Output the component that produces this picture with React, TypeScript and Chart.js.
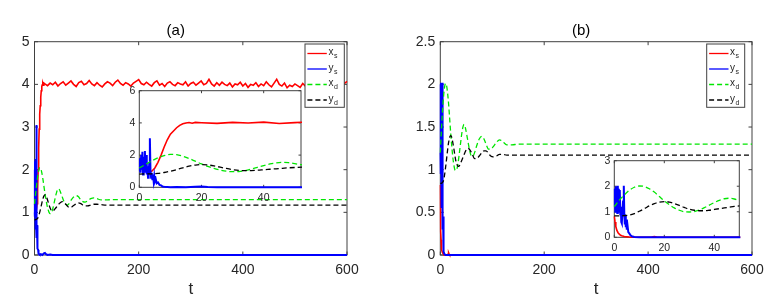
import React, { useEffect, useRef } from "react";
import { Chart, registerables } from "chart.js";

Chart.register(...registerables);

// ---------------- data ----------------
const SERIES_LABELS = ["x_s", "y_s", "x_d", "y_d"];
const TITLES = ["(a)", "(b)"];
const X_TITLE = "t";

const MAIN_X_TICKS = [0, 200, 400, 600];
const INSET_X_TICKS = [0, 20, 40];
const A_Y_TICKS = [0, 1, 2, 3, 4, 5];
const B_Y_TICKS = [0, 0.5, 1, 1.5, 2, 2.5];
const A_INSET_Y_TICKS = [0, 2, 4, 6];
const B_INSET_Y_TICKS = [0, 1, 2, 3];

// panel (a) x_s
const A_XS_T = [0, 1, 2, 3, 4, 5, 6, 7, 8, 9, 10, 11, 12, 13, 14, 15, 16, 17, 18,
  20, 25, 30, 35, 40, 45, 50, 55, 60, 65, 70, 75, 80, 85, 90, 95, 100, 105, 110, 115,
  120, 125, 130, 135, 140, 145, 150, 155, 160, 165, 170, 175, 180, 185, 190, 195, 200, 205, 210, 215,
  220, 225, 230, 235, 240, 245, 250, 255, 260, 265, 270, 275, 280, 285, 290, 295, 300, 305, 310, 315,
  320, 325, 330, 335, 340, 345, 350, 355, 360, 365, 370, 375, 380, 385, 390, 395, 400, 405, 410, 415,
  420, 425, 430, 435, 440, 445, 450, 455, 460, 465, 470, 475, 480, 485, 490, 495, 500, 505, 510, 515,
  520, 525, 530, 535, 540, 545, 550, 555, 560, 565, 570, 575, 580, 585, 590, 595, 600];
const A_XS = [1.2, 1.15, 1.05, 1.0, 1.0, 1.2, 1.55, 2.0, 2.5, 2.95, 3.3, 3.5, 3.7, 3.85, 3.95, 3.99, 4.02, 3.98, 4.03,
  4.01, 3.97, 4.03, 3.99, 4.05, 3.96, 4.02, 4.06, 3.98, 4.03,
  4.08, 4.0, 3.95, 4.04, 4.07, 3.99, 4.02, 4.09, 4.01, 3.97,
  4.04, 3.98, 3.94, 4.01, 4.06, 4.03, 3.97, 4.05, 4.1, 4.02,
  3.98, 4.04, 4.01, 3.96, 4.03, 4.07, 4.11, 4.02, 3.99, 4.05,
  4.0, 3.96, 4.04, 4.08, 3.98, 4.02, 3.95, 4.03, 4.06, 4.0,
  3.97, 4.04, 4.01, 3.99, 4.06, 3.96, 4.02, 4.05, 3.98, 4.03,
  4.08, 3.99, 4.02, 4.12, 4.01, 3.96, 4.04, 3.98, 4.05, 4.0,
  3.97, 4.03, 3.94, 4.01, 3.99, 4.05, 3.96, 4.02, 3.93, 4.0,
  3.98, 4.04, 3.95, 4.01, 3.97, 4.06, 3.99, 3.94, 4.03, 4.12,
  4.0, 3.96, 4.03, 3.92, 3.98, 3.95, 4.01, 3.97, 3.93, 4.02,
  3.96, 4.03, 3.99, 4.05, 3.97, 4.02, 3.95, 4.0, 3.98, 4.04,
  4.01, 3.97, 4.03, 4.0, 4.06, 4.02, 4.07];

// panel (a) y_s
const A_YS_T = [0, 0.2, 0.4, 0.6, 0.8, 1.0, 1.2, 1.4, 1.6, 1.8, 2.0, 2.2, 2.4, 2.6, 2.8, 3.0, 3.2, 3.4, 3.6, 3.8,
  4.0, 4.2, 4.4, 4.6, 4.8, 5.0, 5.3, 5.6, 6.0, 6.5, 7.0, 7.5, 8, 9, 10, 12, 15, 18, 20, 22, 25, 30, 35, 600];
const A_YS = [1.0, 1.8, 0.9, 2.0, 1.1, 2.2, 0.8, 1.9, 1.0, 2.25, 0.9, 2.0, 0.8, 1.3, 0.6, 0.7, 1.5, 3.05, 1.0, 0.6,
  0.9, 0.5, 0.8, 0.4, 0.7, 0.35, 0.5, 0.25, 0.3, 0.15, 0.12, 0.05, 0.03, 0.02, 0.01, 0.02, 0.0, 0.04, 0.05, 0.02, 0, 0.01, 0, 0];

// panel (b) x_s
const B_XS_T = [0, 0.3, 0.6, 1.0, 1.5, 2.0, 2.5, 3, 4, 5, 6, 8, 14, 15, 16, 17, 18, 600];
const B_XS = [0.82, 0.6, 0.42, 0.28, 0.18, 0.12, 0.08, 0.06, 0.03, 0.02, 0.01, 0, 0, 0.01, 0.025, 0.01, 0, 0];

// panel (b) y_s
const B_YS_T = [0, 0.2, 0.4, 0.6, 0.8, 1.0, 1.2, 1.4, 1.6, 1.8, 2.0, 2.2, 2.4, 2.6, 2.8, 3.0, 3.2,
  3.5, 3.8, 4.0, 4.2, 4.4, 4.6, 4.8, 5.0, 5.3, 5.6, 6.0, 6.5, 7, 8, 10, 600];
const B_YS = [1.2, 1.9, 1.0, 2.0, 1.1, 1.95, 0.95, 2.02, 1.05, 1.9, 1.0, 1.85, 0.9, 1.2, 0.6, 0.55, 0.9,
  1.4, 2.02, 0.9, 0.5, 0.85, 0.4, 0.7, 0.3, 0.45, 0.2, 0.15, 0.08, 0.04, 0.01, 0, 0];

// x_d / y_d sampling times (both panels)
const D_T = [0, 2, 4, 6, 8, 10, 12, 14, 16, 18, 20, 22, 24, 26, 28, 30, 32, 34, 36, 38, 40, 42, 44, 46, 48, 50,
  53, 56, 60, 63, 66, 70, 75, 80, 84, 88, 93, 97, 102, 108, 114, 120, 128, 138, 150, 600];
const A_XD = [1.2, 1.42, 1.64, 1.83, 1.97, 2.05, 2.03, 1.93, 1.79, 1.62,
  1.45, 1.3, 1.17, 1.07, 1.0, 0.97, 0.98, 1.04, 1.13, 1.24,
  1.35, 1.45, 1.52, 1.55, 1.53, 1.47,
  1.37, 1.27, 1.19, 1.17, 1.2, 1.28, 1.36, 1.39, 1.37, 1.31,
  1.25, 1.24, 1.27, 1.32, 1.34, 1.32, 1.29, 1.29, 1.3, 1.3];
const A_YD = [0.82, 0.83, 0.84, 0.86, 0.92, 1.0, 1.1, 1.21, 1.31, 1.38,
  1.41, 1.39, 1.33, 1.25, 1.17, 1.1, 1.05, 1.03, 1.04, 1.06,
  1.09, 1.12, 1.15, 1.18, 1.21, 1.23,
  1.25, 1.24, 1.19, 1.15, 1.12, 1.12, 1.16, 1.2, 1.22, 1.21,
  1.17, 1.15, 1.15, 1.17, 1.19, 1.19, 1.18, 1.17, 1.17, 1.17];
const B_XD = [1.2, 1.45, 1.66, 1.84, 1.96, 2.01, 1.99, 1.9, 1.77, 1.6,
  1.43, 1.28, 1.15, 1.06, 1.0, 0.99, 1.01, 1.07, 1.16, 1.26,
  1.36, 1.45, 1.51, 1.53, 1.5, 1.44,
  1.34, 1.24, 1.16, 1.16, 1.2, 1.28, 1.36, 1.39, 1.36, 1.3,
  1.24, 1.24, 1.27, 1.32, 1.35, 1.33, 1.29, 1.29, 1.3, 1.3];
const B_YD = [0.84, 0.84, 0.85, 0.87, 0.93, 1.02, 1.12, 1.23, 1.32, 1.38,
  1.4, 1.38, 1.32, 1.25, 1.17, 1.1, 1.06, 1.04, 1.04, 1.06,
  1.09, 1.12, 1.15, 1.18, 1.21, 1.23,
  1.25, 1.24, 1.2, 1.16, 1.13, 1.13, 1.16, 1.2, 1.22, 1.22,
  1.19, 1.16, 1.15, 1.16, 1.18, 1.18, 1.17, 1.17, 1.17, 1.17];

// ---------------- styling ----------------
const FONT = '"Liberation Sans", Arial, Helvetica, sans-serif';
const TEXT_COLOR = "#262626";
const AXIS_COLOR = "#404040";
const RED = "#ff0000";
const BLUE = "#0000ff";
const GREEN = "#00e600";
const BLACK = "#000000";
const DASH = [5, 3];

const pts = (t: number[], v: number[]) => t.map((x, i) => ({ x, y: v[i] }));

function makeDatasets(xsT: number[], xs: number[], ysT: number[], ys: number[], dT: number[], xd: number[], yd: number[]) {
  const common = { pointRadius: 0, fill: false, clip: { left: 1, right: 1, top: 1, bottom: 3 } };
  return [
    { ...common, label: SERIES_LABELS[0], data: pts(xsT, xs), borderColor: RED, borderWidth: 1.6, tension: 0, order: 3 },
    { ...common, label: SERIES_LABELS[1], data: pts(ysT, ys), borderColor: BLUE, borderWidth: 2, tension: 0, order: 2 },
    { ...common, label: SERIES_LABELS[2], data: pts(dT, xd), borderColor: GREEN, borderWidth: 1.3, borderDash: DASH, cubicInterpolationMode: "monotone", order: 1 },
    { ...common, label: SERIES_LABELS[3], data: pts(dT, yd), borderColor: BLACK, borderWidth: 1.3, borderDash: DASH, cubicInterpolationMode: "monotone", order: 0 },
  ];
}

const framePlugin = {
  id: "frame",
  beforeDatasetsDraw(chart: any, _args: any, o: any) {
    const { ctx, chartArea: ca } = chart;
    const xs = chart.scales.x;
    const ys = chart.scales.y;
    ctx.save();
    if (o.fillWhite) {
      ctx.fillStyle = "#ffffff";
      ctx.fillRect(ca.left, ca.top, ca.right - ca.left, ca.bottom - ca.top);
    }
    ctx.strokeStyle = AXIS_COLOR;
    ctx.lineWidth = 1;
    ctx.setLineDash([]);
    ctx.strokeRect(ca.left, ca.top, ca.right - ca.left, ca.bottom - ca.top);
    ctx.beginPath();
    for (const t of xs.ticks) {
      const px = xs.getPixelForValue(t.value);
      ctx.moveTo(px, ca.bottom);
      ctx.lineTo(px, ca.bottom - o.tick);
      ctx.moveTo(px, ca.top);
      ctx.lineTo(px, ca.top + o.tick);
    }
    for (const t of ys.ticks) {
      const py = ys.getPixelForValue(t.value);
      ctx.moveTo(ca.left, py);
      ctx.lineTo(ca.left + o.tick, py);
      ctx.moveTo(ca.right, py);
      ctx.lineTo(ca.right - o.tick, py);
    }
    ctx.stroke();
    ctx.restore();
  },
};

const legendPlugin = {
  id: "subLegend",
  afterDraw(chart: any, _args: any, o: any) {
    if (!o || !o.show) return;
    const { ctx, chartArea: ca } = chart;
    const x0 = ca.right - o.rightInset - o.width;
    const y0 = ca.top + o.topInset;
    ctx.save();
    ctx.fillStyle = "#ffffff";
    ctx.fillRect(x0, y0, o.width, o.height);
    ctx.strokeStyle = AXIS_COLOR;
    ctx.lineWidth = 1;
    ctx.setLineDash([]);
    ctx.strokeRect(x0, y0, o.width, o.height);
    chart.data.datasets.forEach((ds: any, i: number) => {
      const y = y0 + o.firstRow + i * o.rowGap;
      ctx.strokeStyle = ds.borderColor;
      ctx.lineWidth = 1.3;
      ctx.setLineDash(ds.borderDash || []);
      ctx.beginPath();
      ctx.moveTo(x0 + o.lineStart, y);
      ctx.lineTo(x0 + o.lineEnd, y);
      ctx.stroke();
      ctx.setLineDash([]);
      const [base, sub] = String(ds.label).split("_");
      ctx.fillStyle = TEXT_COLOR;
      ctx.textBaseline = "middle";
      ctx.textAlign = "left";
      ctx.font = `10px ${FONT}`;
      ctx.fillText(base, x0 + o.textStart, y - 1);
      const w = ctx.measureText(base).width;
      ctx.font = `7px ${FONT}`;
      ctx.fillText(sub, x0 + o.textStart + w + 0.5, y + 3);
    });
    ctx.restore();
  },
};

type Geo = { padL: number; padR: number; padT: number; padB: number; yW: number; xH: number };

function buildConfig(p: {
  datasets: any[];
  xMax: number;
  xTicks: number[];
  yMax: number;
  yTicks: number[];
  geo: Geo;
  tickFont: number;
  labelPad: number;
  yLabelPad: number;
  title?: string;
  xTitle?: string;
  tickLen: number;
  fillWhite: boolean;
  legend?: any;
}) {
  const g = p.geo;
  return {
    type: "line",
    data: { datasets: p.datasets },
    plugins: [framePlugin, legendPlugin],
    options: {
      responsive: false,
      animation: false,
      events: [],
      layout: { padding: { left: g.padL, right: g.padR, top: g.padT, bottom: g.padB } },
      plugins: {
        legend: { display: false },
        tooltip: { enabled: false },
        title: p.title
          ? {
              display: true,
              text: p.title,
              color: "#000000",
              font: { family: FONT, size: 15, weight: "normal", lineHeight: 1.2 },
              padding: { top: 21.4, bottom: 2.3 },
            }
          : { display: false },
        frame: { tick: p.tickLen, fillWhite: p.fillWhite },
        subLegend: p.legend || { show: false },
      },
      scales: {
        x: {
          type: "linear",
          min: 0,
          max: p.xMax,
          grid: { display: false, drawTicks: false, tickLength: 0 },
          border: { display: false },
          ticks: {
            color: TEXT_COLOR,
            font: { family: FONT, size: p.tickFont },
            padding: p.labelPad,
            maxRotation: 0,
            autoSkip: false,
            callback: (v: any) => String(v),
          },
          afterBuildTicks: (s: any) => {
            s.ticks = p.xTicks.map((v) => ({ value: v }));
          },
          afterFit: (s: any) => {
            s.height = g.xH;
          },
          title: p.xTitle
            ? {
                display: true,
                text: p.xTitle,
                color: TEXT_COLOR,
                font: { family: FONT, size: 17, lineHeight: 1.2 },
                padding: { top: 0, bottom: 3 },
              }
            : { display: false },
        },
        y: {
          type: "linear",
          min: 0,
          max: p.yMax,
          grid: { display: false, drawTicks: false, tickLength: 0 },
          border: { display: false },
          ticks: {
            color: TEXT_COLOR,
            font: { family: FONT, size: p.tickFont },
            padding: p.yLabelPad,
            autoSkip: false,
            callback: (v: any) => String(v),
          },
          afterBuildTicks: (s: any) => {
            s.ticks = p.yTicks.map((v) => ({ value: v }));
          },
          afterFit: (s: any) => {
            s.width = g.yW;
          },
        },
      },
    },
  };
}

function ChartBox({ make, left, top, width, height }: { make: () => any; left: number; top: number; width: number; height: number }) {
  const ref = useRef<HTMLCanvasElement>(null);
  useEffect(() => {
    const chart = new Chart(ref.current as HTMLCanvasElement, make());
    return () => chart.destroy();
  }, []);
  return (
    <canvas
      ref={ref}
      width={width}
      height={height}
      style={{ position: "absolute", left, top, width, height }}
    />
  );
}

const LEGEND_BASE = { show: true, height: 63.3, topInset: 2.3, firstRow: 9.5, rowGap: 15.5, lineStart: 2.4, lineEnd: 21.8, textStart: 23.4 };

export default function App() {
  const dsA = () => makeDatasets(A_XS_T, A_XS, A_YS_T, A_YS, D_T, A_XD, A_YD);
  const dsB = () => makeDatasets(B_XS_T, B_XS, B_YS_T, B_YS, D_T, B_XD, B_YD);

  const mainA = () =>
    buildConfig({
      datasets: dsA(),
      xMax: 600,
      xTicks: MAIN_X_TICKS,
      yMax: 5,
      yTicks: A_Y_TICKS,
      geo: { padL: 4.5, padR: 43, padT: 0, padB: 0, yW: 30, xH: 48 },
      tickFont: 14,
      labelPad: 7,
      yLabelPad: 5,
      title: TITLES[0],
      xTitle: X_TITLE,
      tickLen: 3.5,
      fillWhite: false,
      legend: { ...LEGEND_BASE, width: 39.3, rightInset: 2.7 },
    });
  const mainB = () =>
    buildConfig({
      datasets: dsB(),
      xMax: 600,
      xTicks: MAIN_X_TICKS,
      yMax: 2.5,
      yTicks: B_Y_TICKS,
      geo: { padL: 22.3, padR: 26, padT: 0, padB: 0, yW: 30, xH: 48 },
      tickFont: 14,
      labelPad: 7,
      yLabelPad: 5,
      title: TITLES[1],
      xTitle: X_TITLE,
      tickLen: 3.5,
      fillWhite: false,
      legend: { ...LEGEND_BASE, width: 38, rightInset: 7.3 },
    });
  const insetA = () =>
    buildConfig({
      datasets: dsA(),
      xMax: 52,
      xTicks: INSET_X_TICKS,
      yMax: 6,
      yTicks: A_INSET_Y_TICKS,
      geo: { padL: 0, padR: 9, padT: 10.7, padB: 0, yW: 24.3, xH: 22.7 },
      tickFont: 10.5,
      labelPad: 4.5,
      yLabelPad: 4,
      tickLen: 2.5,
      fillWhite: true,
    });
  const insetB = () =>
    buildConfig({
      datasets: dsB(),
      xMax: 50,
      xTicks: INSET_X_TICKS,
      yMax: 3,
      yTicks: B_INSET_Y_TICKS,
      geo: { padL: 0, padR: 8.7, padT: 10.7, padB: 0, yW: 24.3, xH: 22.7 },
      tickFont: 10.5,
      labelPad: 4.5,
      yLabelPad: 4,
      tickLen: 2.5,
      fillWhite: true,
    });

  return (
    <div style={{ position: "absolute", left: 0, top: 0, width: 778, height: 303, background: "#ffffff", overflow: "hidden" }}>
      <ChartBox make={mainA} left={0} top={0} width={390} height={303} />
      <ChartBox make={mainB} left={388} top={0} width={390} height={303} />
      <ChartBox make={insetA} left={115} top={80} width={195} height={130} />
      <ChartBox make={insetB} left={590} top={150} width={158} height={110} />
    </div>
  );
}
